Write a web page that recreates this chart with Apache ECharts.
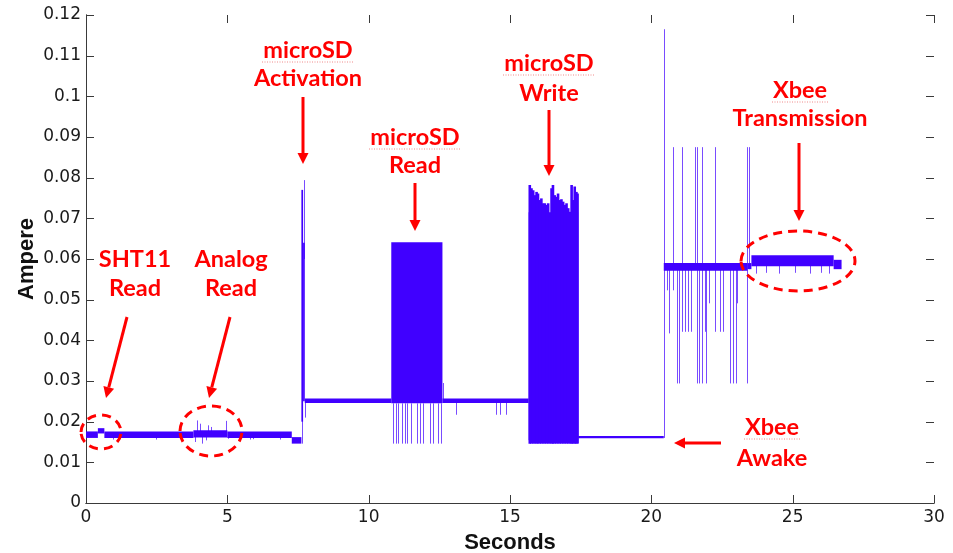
<!DOCTYPE html>
<html><head><meta charset="utf-8">
<script src="https://cdn.jsdelivr.net/npm/echarts@6/dist/echarts.min.js"></script>
<style>html,body{margin:0;padding:0;background:#fff}#c{width:953px;height:553px}</style>
</head><body><div id="c"></div>
<script>
// ---- data ----
const xTicks = [0, 5, 10, 15, 20, 25, 30];
const yTicks = [0, 0.01, 0.02, 0.03, 0.04, 0.05, 0.06, 0.07, 0.08, 0.09, 0.1, 0.11, 0.12];

// dense parts of the current trace: [tStart, tEnd, low, high] (s, A)
const bands = [
  [0.00, 0.42, 0.0160, 0.0176],
  [0.42, 0.65, 0.0171, 0.0184],
  [0.65, 3.80, 0.0160, 0.0176],
  [3.80, 5.00, 0.0161, 0.0179],
  [5.00, 7.28, 0.0160, 0.0176],
  [7.28, 7.62, 0.0146, 0.0162],
  [7.62, 7.68, 0.0200, 0.0770],
  [7.68, 7.74, 0.0250, 0.0640],
  [7.74, 10.80, 0.0246, 0.0257],
  [10.80, 12.61, 0.0245, 0.0641],
  [12.61, 15.66, 0.0246, 0.0257],
  [15.66, 17.41, 0.0154, 0.0715],
  [17.41, 20.44, 0.0159, 0.0165],
  [20.44, 23.40, 0.0571, 0.0590],
  [23.40, 23.54, 0.0575, 0.0590],
  [23.54, 26.45, 0.0582, 0.0609],
  [26.45, 26.73, 0.0575, 0.0598]
];

// isolated spikes of the trace: [t, low, high]
const spikes = [
  [0.95, 0.0156, 0.0165], [2.48, 0.0156, 0.0165], [3.31, 0.0157, 0.0165],
  [3.84, 0.0150, 0.0170], [3.92, 0.0165, 0.0203], [4.02, 0.0165, 0.0195],
  [4.11, 0.0146, 0.0170], [4.23, 0.0154, 0.0170], [4.31, 0.0165, 0.0191],
  [4.41, 0.0165, 0.0187], [4.96, 0.0165, 0.0202], [5.02, 0.0158, 0.0170],
  [5.79, 0.0156, 0.0165], [5.90, 0.0157, 0.0165], [6.85, 0.0156, 0.0165],
  [7.64, 0.0146, 0.0580], [7.70, 0.0600, 0.0794], [7.76, 0.0210, 0.0250],
  [10.86, 0.0146, 0.0245], [10.96, 0.0146, 0.0245], [11.04, 0.0146, 0.0245],
  [11.19, 0.0146, 0.0245], [11.27, 0.0146, 0.0245], [11.36, 0.0146, 0.0245],
  [11.51, 0.0146, 0.0245], [11.71, 0.0146, 0.0245], [11.80, 0.0146, 0.0245],
  [11.92, 0.0146, 0.0245], [12.18, 0.0146, 0.0245], [12.27, 0.0146, 0.0245],
  [12.45, 0.0146, 0.0245], [12.55, 0.0146, 0.0245], [12.62, 0.0250, 0.0295],
  [13.10, 0.0217, 0.0247], [14.50, 0.0217, 0.0247], [14.66, 0.0217, 0.0247],
  [14.87, 0.0217, 0.0247], [15.67, 0.0150, 0.0605],
  [20.44, 0.0160, 0.1165],
  [20.54, 0.0523, 0.0575], [20.63, 0.0417, 0.0575], [20.77, 0.0523, 0.0875],
  [20.91, 0.0294, 0.0575], [20.98, 0.0294, 0.0575], [21.07, 0.0421, 0.0575],
  [21.09, 0.0575, 0.0875], [21.19, 0.0421, 0.0575], [21.30, 0.0421, 0.0575],
  [21.42, 0.0421, 0.0575], [21.54, 0.0575, 0.0875], [21.60, 0.0575, 0.0875],
  [21.62, 0.0294, 0.0575], [21.69, 0.0294, 0.0575], [21.78, 0.0294, 0.0575],
  [21.81, 0.0575, 0.0875], [21.89, 0.0421, 0.0575], [21.95, 0.0294, 0.0575],
  [22.05, 0.0491, 0.0575], [22.25, 0.0421, 0.0875], [22.42, 0.0421, 0.0575],
  [22.54, 0.0421, 0.0575], [22.80, 0.0294, 0.0575], [22.90, 0.0294, 0.0575],
  [22.98, 0.0294, 0.0575], [23.04, 0.0491, 0.0575], [23.37, 0.0575, 0.0875],
  [23.39, 0.0294, 0.0575], [23.45, 0.0575, 0.0875],
  [23.70, 0.0564, 0.0590], [24.05, 0.0566, 0.0590], [24.50, 0.0564, 0.0590],
  [25.10, 0.0566, 0.0590], [25.60, 0.0564, 0.0590], [26.00, 0.0566, 0.0590],
  [26.30, 0.0564, 0.0590]
];

// microSD write burst, ragged top: [t, low, high]
const writeBurst = [
  [15.70, 0.0146, 0.0782], [15.76, 0.0146, 0.0774], [15.82, 0.0146, 0.0769],
  [15.88, 0.0146, 0.0757], [15.94, 0.0146, 0.0765], [15.99, 0.0146, 0.0761],
  [16.05, 0.0146, 0.0745], [16.11, 0.0146, 0.0749], [16.17, 0.0146, 0.0737],
  [16.23, 0.0146, 0.0737], [16.29, 0.0146, 0.0733], [16.35, 0.0146, 0.0737],
  [16.41, 0.0146, 0.0704], [16.47, 0.0146, 0.0774], [16.52, 0.0146, 0.0782],
  [16.58, 0.0146, 0.0757], [16.64, 0.0146, 0.0753], [16.70, 0.0146, 0.0761],
  [16.76, 0.0146, 0.0745], [16.82, 0.0146, 0.0747], [16.88, 0.0146, 0.0741],
  [16.94, 0.0146, 0.0733], [17.00, 0.0146, 0.0737], [17.06, 0.0146, 0.0725],
  [17.12, 0.0146, 0.0716], [17.18, 0.0146, 0.0782], [17.23, 0.0146, 0.0745],
  [17.29, 0.0146, 0.0778], [17.35, 0.0146, 0.0765], [17.39, 0.0146, 0.0761]
];

// ---- chart ----
const BLUE = '#4000ff';
const RED = '#ff0000';
const FRAME = '#3a3a3a';
const chart = echarts.init(document.getElementById('c'), null, {renderer: 'canvas'});

function renderBand(params, api) {
  const p0 = api.coord([api.value(0), api.value(3)]);
  const p1 = api.coord([api.value(1), api.value(2)]);
  return {type: 'rect', shape: {x: p0[0], y: p0[1], width: Math.max(p1[0] - p0[0], 1), height: Math.max(p1[1] - p0[1], 1)},
          style: {fill: BLUE}};
}
function spikeRenderer(width, opacity, snap) {
  return function (params, api) {
    const a = api.coord([api.value(0), api.value(1)]);
    const b = api.coord([api.value(0), api.value(2)]);
    const x = snap ? Math.round(a[0]) + 0.5 : a[0];
    return {type: 'line', shape: {x1: x, y1: a[1], x2: x, y2: b[1]},
            style: {stroke: BLUE, lineWidth: width, opacity: opacity}};
  };
}
// MATLAB-style inward ticks on all four sides
function xTickRenderer(params, api) {
  const v = api.value(0);
  const b = api.coord([v, 0]), t = api.coord([v, 0.12]);
  const x = Math.round(b[0]) + 0.5;
  return {type: 'group', children: [
    {type: 'line', shape: {x1: x, y1: b[1], x2: x, y2: b[1] - 8}, style: {stroke: FRAME, lineWidth: 1}},
    {type: 'line', shape: {x1: x, y1: t[1], x2: x, y2: t[1] + 8}, style: {stroke: FRAME, lineWidth: 1}}
  ]};
}
function yTickRenderer(params, api) {
  const v = api.value(0);
  const l = api.coord([0, v]), r = api.coord([30, v]);
  const y = Math.round(l[1]) + 0.5;
  return {type: 'group', children: [
    {type: 'line', shape: {x1: l[0], y1: y, x2: l[0] + 8, y2: y}, style: {stroke: FRAME, lineWidth: 1}},
    {type: 'line', shape: {x1: r[0], y1: y, x2: r[0] - 8, y2: y}, style: {stroke: FRAME, lineWidth: 1}}
  ]};
}

const axisCommon = {
  min: 0, splitLine: {show: false},
  axisLine: {show: true, lineStyle: {color: FRAME, width: 1}},
  axisTick: {show: false},
  axisLabel: {color: '#1a1a1a', fontSize: 17, fontFamily: 'DejaVu Sans'}
};
const fmt = v => String(+v.toFixed(2));

// annotations
const G = [];
function txt(s, x, y) {
  G.push({type: 'text', z: 100, style: {text: s, x: x, y: y, textAlign: 'center', textVerticalAlign: 'middle',
    font: 'bold 23.5px Lato', fill: RED}});
}
function squiggle(x, y, w) {
  G.push({type: 'line', z: 100, shape: {x1: x - w / 2, y1: y, x2: x + w / 2, y2: y},
    style: {stroke: '#f08a8a', lineWidth: 1, lineDash: [1, 1.5]}});
}
function arrow(x1, y1, x2, y2) {
  const dx = x2 - x1, dy = y2 - y1, L = Math.hypot(dx, dy);
  const ux = dx / L, uy = dy / L, hl = 11, hw = 5.5;
  const bx = x2 - ux * hl, by = y2 - uy * hl;
  G.push({type: 'line', z: 100, shape: {x1: x1, y1: y1, x2: bx, y2: by}, style: {stroke: RED, lineWidth: 3}});
  G.push({type: 'polygon', z: 100, shape: {points: [[x2, y2], [bx - uy * hw, by + ux * hw], [bx + uy * hw, by - ux * hw]]},
    style: {fill: RED}});
}
function ring(cx, cy, rx, ry) {
  G.push({type: 'ellipse', z: 100, shape: {cx: cx, cy: cy, rx: rx, ry: ry},
    style: {fill: 'none', stroke: RED, lineWidth: 3, lineDash: [9, 6]}});
}
txt('SHT11', 135, 259); txt('Read', 135, 288); arrow(127, 317, 106, 398); ring(101, 432, 20, 17);
txt('Analog', 231, 259); txt('Read', 231, 288); arrow(230, 317, 209, 398); ring(211, 431, 31, 25);
txt('microSD', 308, 50); squiggle(308, 62, 92); txt('Activation', 308, 78); arrow(303, 97, 303, 164);
txt('microSD', 415, 137); squiggle(415, 149, 92); txt('Read', 415, 165); arrow(415, 183, 415, 231);
txt('microSD', 549, 63); squiggle(549, 75, 92); txt('Write', 549, 93); arrow(549, 110, 549, 176);
txt('Xbee', 800, 90); squiggle(800, 102, 56); txt('Transmission', 800, 118); arrow(799, 143, 799, 221); ring(798, 261, 57, 30);
txt('Xbee', 772, 427); squiggle(772, 439, 56); txt('Awake', 772, 458); arrow(721, 443, 674, 443);

chart.setOption({
  animation: false,
  backgroundColor: '#fff',
  grid: {left: 86, right: 19, top: 15, bottom: 50, containLabel: false, outerBoundsMode: 'none'},
  xAxis: [
    Object.assign({}, axisCommon, {type: 'value', position: 'bottom', max: 30, interval: 5,
      axisLabel: Object.assign({}, axisCommon.axisLabel, {margin: 6, formatter: fmt}),
      name: 'Seconds', nameLocation: 'middle', nameGap: 29, nameMoveOverlap: false,
      nameTextStyle: {fontSize: 22, fontWeight: 'bold', color: '#111', fontFamily: 'Liberation Sans'}}),
    Object.assign({}, axisCommon, {type: 'value', position: 'top', max: 30, interval: 5, axisLabel: {show: false}})
  ],
  yAxis: [
    Object.assign({}, axisCommon, {type: 'value', position: 'left', max: 0.12, interval: 0.01,
      axisLabel: Object.assign({}, axisCommon.axisLabel, {margin: 5, formatter: fmt}),
      name: 'Ampere', nameLocation: 'middle', nameGap: 48, nameRotate: 90, nameMoveOverlap: false,
      nameTextStyle: {fontSize: 22, fontWeight: 'bold', color: '#111', fontFamily: 'Liberation Sans'}}),
    Object.assign({}, axisCommon, {type: 'value', position: 'right', max: 0.12, interval: 0.01, axisLabel: {show: false}})
  ],
  series: [
    {type: 'custom', name: 'bands', coordinateSystem: 'cartesian2d', data: bands, renderItem: renderBand,
     encode: {x: [0, 1], y: [2, 3]}, clip: true, silent: true},
    {type: 'custom', name: 'write', coordinateSystem: 'cartesian2d', data: writeBurst, renderItem: spikeRenderer(2.6, 1, false),
     encode: {x: 0, y: [1, 2]}, clip: true, silent: true},
    {type: 'custom', name: 'spikes', coordinateSystem: 'cartesian2d', data: spikes, renderItem: spikeRenderer(1, 0.7, true),
     encode: {x: 0, y: [1, 2]}, clip: true, silent: true},
    {type: 'custom', name: 'xticks', coordinateSystem: 'cartesian2d', data: xTicks.map(v => [v]), renderItem: xTickRenderer,
     encode: {x: 0}, clip: false, silent: true, z: 5},
    {type: 'custom', name: 'yticks', coordinateSystem: 'cartesian2d', data: yTicks.map(v => [v]), renderItem: yTickRenderer,
     encode: {y: 0}, clip: false, silent: true, z: 5}
  ],
  graphic: G
});
</script></body></html>
